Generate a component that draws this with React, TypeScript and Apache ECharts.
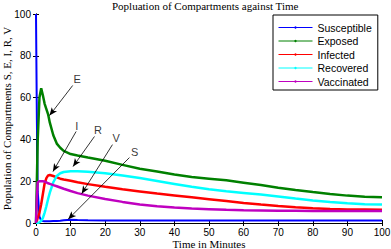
import React, { useEffect, useRef } from "react";
import * as echarts from "echarts";

const titleText = "Popluation of Compartments against Time";
const xName = "Time in Minutes";
const yName = "Population of Compartments S, E, I, R, V";

const seriesNames = ["Susceptible", "Exposed", "Infected", "Recovered", "Vaccinated"];
const seriesColors = ["#0000ff", "#008000", "#ff0000", "#00ffff", "#bf00bf"];

const time = [0, 0.25, 0.5, 1, 1.5, 2, 2.5, 3, 3.5, 4, 5, 6, 7, 8, 10, 12, 15, 20, 25, 30, 35, 40, 45, 50, 55, 60, 65, 70, 75, 80, 85, 90, 95, 100];

const susceptible = [100, 50, 15, 3, 1.2, 0.9, 0.8, 0.8, 0.8, 0.8, 0.9, 1.0, 1.1, 1.3, 1.5, 1.4, 1.3, 1.2, 1.2, 1.2, 1.2, 1.2, 1.2, 1.2, 1.2, 1.2, 1.2, 1.2, 1.2, 1.2, 1.2, 1.2, 1.2, 1.2];
const exposed = [0, 20, 40, 60, 64.5, 61, 57, 54.5, 52, 48, 42, 38, 36, 34.5, 33, 32.3, 31.3, 29.8, 27.8, 26, 24.6, 23.2, 22, 21.2, 20.4, 19.3, 18.2, 16.9, 15.8, 14.8, 13.9, 13.1, 12.6, 12.3];
const infected = [0, 1, 2.5, 5, 9, 14, 19, 21.5, 22.8, 23, 22.5, 21.8, 21.2, 20.8, 20.2, 19.5, 18.6, 17.3, 16.1, 15.1, 14.1, 13.2, 12.3, 11.4, 10.5, 9.6, 8.8, 8.1, 7.5, 7.0, 6.7, 6.5, 6.4, 6.3];
const recovered = [0, 0, 0, 0.3, 1, 2.5, 5, 8, 11.5, 14.5, 19.5, 22.5, 23.8, 24.4, 24.8, 24.8, 24.5, 23.8, 22.7, 21.5, 20.1, 18.7, 17.3, 16.1, 15.2, 14.4, 13.6, 12.7, 11.7, 10.8, 10.0, 9.4, 9.0, 8.8];
const vaccinated = [0, 12, 19.5, 20, 20, 20, 19.8, 19.4, 19, 18.7, 18.1, 17.6, 17, 16.4, 15.3, 14.3, 13.1, 11.5, 10.1, 8.9, 8.0, 7.4, 6.9, 6.6, 6.3, 6.1, 6.0, 5.9, 5.9, 5.8, 5.8, 5.8, 5.8, 5.8];

const seriesValues = [susceptible, exposed, infected, recovered, vaccinated];

const annotationLetters = ["E", "I", "R", "V", "S"];
const annotationLabelX = [11.9, 11.8, 17.9, 23.2, 28.5];
const annotationLabelY = [68.7, 46.6, 44.7, 40.9, 34.2];
const arrowStartX = [10.6, 11.6, 16.9, 22.1, 27.0];
const arrowStartY = [65.8, 43.8, 41.4, 37.5, 31.3];
const arrowEndX = [3.9, 4.9, 10.7, 13.2, 9.3];
const arrowEndY = [51.4, 24.6, 27.0, 14.0, 1.8];

const xTickInterval = 10;
const yTickInterval = 20;

export default function App() {
  const ref = useRef<HTMLDivElement>(null);
  useEffect(() => {
    if (!ref.current) return;
    const chart = echarts.init(ref.current, null, { renderer: "svg" });
    const sans = "Liberation Sans, Arial, sans-serif";
    const serif = "Liberation Serif, Times New Roman, serif";
    const lineSeries = seriesNames.map((name, i) => ({
      name,
      type: "line",
      data: time.map((t, k) => [t, seriesValues[i][k]]),
      showSymbol: false,
      symbol: "circle",
      symbolSize: 2,
      lineStyle: { color: seriesColors[i], width: i === 0 ? 2 : 2.5 },
      itemStyle: { color: seriesColors[i] },
      z: 2,
    }));
    const annotationSeries = {
      name: "annotations",
      type: "scatter",
      symbolSize: 0,
      silent: true,
      data: annotationLetters.map((l, i) => ({ name: l, value: [annotationLabelX[i], annotationLabelY[i]] })),
      label: {
        show: true,
        position: "inside",
        formatter: (p: any) => p.name,
        color: "#000",
        fontFamily: sans,
        fontSize: 11,
      },
      markLine: {
        silent: true,
        symbol: ["none", "arrow"],
        symbolSize: [5, 8],
        label: { show: false },
        lineStyle: { color: "#000", width: 0.8, type: "solid" },
        data: annotationLetters.map((_, i) => [
          { coord: [arrowStartX[i], arrowStartY[i]] },
          { coord: [arrowEndX[i], arrowEndY[i]] },
        ]),
      },
      z: 5,
    };
    const axisCommon = {
      type: "value",
      axisLine: { show: true, lineStyle: { color: "#000", width: 1 } },
      axisTick: { show: true, inside: true, length: 3, lineStyle: { color: "#000" } },
      splitLine: { show: false },
    };
    chart.setOption({
      animation: false,
      backgroundColor: "#fff",
      title: {
        text: titleText,
        left: 112,
        top: 0,
        padding: 0,
        textStyle: { fontFamily: serif, fontSize: 11, fontWeight: "normal", color: "#000" },
      },
      legend: {
        data: seriesNames,
        orient: "vertical",
        left: 273,
        top: 15,
        align: "left",
        padding: [7, 6, 3, 5],
        itemWidth: 34,
        itemHeight: 3,
        itemGap: 2.5,
        backgroundColor: "#fff",
        borderColor: "#000",
        borderWidth: 1,
        lineStyle: { width: 1 },
        textStyle: { fontFamily: sans, fontSize: 10.5, color: "#000", lineHeight: 11 },
      },
      grid: { left: 36, right: 9, top: 14, bottom: 26, outerBoundsMode: "none", containLabel: false },
      xAxis: [
        {
          ...axisCommon,
          min: 0,
          max: 100,
          interval: xTickInterval,
          name: xName,
          nameLocation: "middle",
          nameGap: 15,
          nameMoveOverlap: false,
          nameTextStyle: { fontFamily: serif, fontSize: 11, color: "#000" },
          axisLabel: { fontFamily: sans, fontSize: 10, color: "#000", margin: 4 },
        },
        {
          ...axisCommon,
          position: "top",
          min: 0,
          max: 100,
          interval: xTickInterval,
          axisLabel: { show: false },
        },
      ],
      yAxis: [
        {
          ...axisCommon,
          min: 0,
          max: 100,
          interval: yTickInterval,
          name: yName,
          nameLocation: "middle",
          nameGap: 24,
          nameMoveOverlap: false,
          nameTextStyle: { fontFamily: serif, fontSize: 11, color: "#000" },
          axisLabel: { fontFamily: sans, fontSize: 10, color: "#000", margin: 5 },
        },
        {
          ...axisCommon,
          position: "right",
          min: 0,
          max: 100,
          interval: yTickInterval,
          axisLabel: { show: false },
        },
      ],
      series: [...lineSeries, annotationSeries],
    });
    return () => chart.dispose();
  }, []);
  return (
    <div
      ref={ref}
      style={{ position: "fixed", left: 0, top: 0, width: 391, height: 249, background: "#fff" }}
    />
  );
}
